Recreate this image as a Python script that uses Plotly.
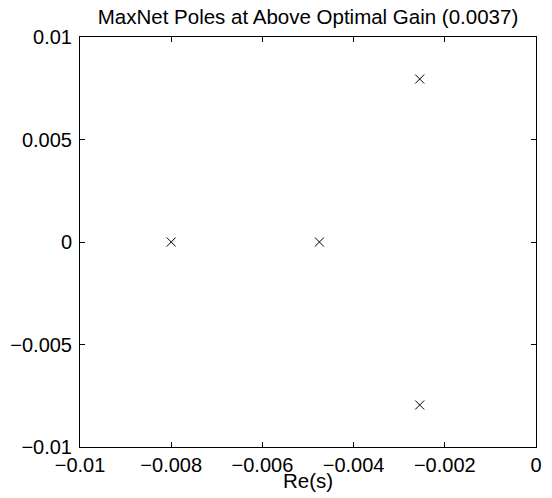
import plotly.graph_objects as go

# Pole locations
pole_re = [-0.0080, -0.00475, -0.00255, -0.00255]
pole_im = [0.0, 0.0, 0.00795, -0.00795]

x_tickvals = [-0.01, -0.008, -0.006, -0.004, -0.002, 0]
x_ticktext = ["\u22120.01", "\u22120.008", "\u22120.006", "\u22120.004", "\u22120.002", "0"]
y_tickvals = [-0.01, -0.005, 0, 0.005, 0.01]
y_ticktext = ["\u22120.01", "\u22120.005", "0", "0.005", "0.01"]

title_text = "MaxNet Poles at Above Optimal Gain (0.0037)"
xlabel_text = "Re(s)"

W, H = 552, 498
L, R, T, B = 80, 10, 37, 51
FONT = "Liberation Sans, Arial, Helvetica, sans-serif"

fig = go.Figure()
fig.add_trace(go.Scatter(
    x=pole_re, y=pole_im, mode="markers",
    marker=dict(symbol="x-thin-open", size=9, color="black",
                line=dict(color="black", width=1)),
    showlegend=False, hoverinfo="x+y",
))

axis_common = dict(
    showline=True, linecolor="black", linewidth=1, mirror="ticks",
    ticks="inside", ticklen=5, tickcolor="black", tickwidth=1,
    showgrid=False, zeroline=False,
    tickfont=dict(family=FONT, size=20, color="black"),
)

fig.update_layout(
    width=W, height=H,
    margin=dict(l=L, r=R, t=T, b=B, pad=0),
    paper_bgcolor="white", plot_bgcolor="white",
    xaxis=dict(range=[-0.01, 0], tickmode="array", tickvals=x_tickvals,
               ticktext=x_ticktext, **axis_common),
    yaxis=dict(range=[-0.01, 0.01], tickmode="array", tickvals=y_tickvals,
               ticktext=y_ticktext, ticklabelstandoff=3, **axis_common),
    title=dict(text=title_text, x=0.5, xref="paper", xanchor="center",
               y=1 - 17 / H, yref="container", yanchor="middle",
               font=dict(family=FONT, size=20.5, color="black")),
    annotations=[dict(text=xlabel_text, x=0.5, xref="paper", xanchor="center",
                      y=-(480 - (H - B)) / (H - T - B), yref="paper",
                      yanchor="middle", showarrow=False,
                      font=dict(family=FONT, size=20.5, color="black"))],
)

fig.write_html("out.html")
